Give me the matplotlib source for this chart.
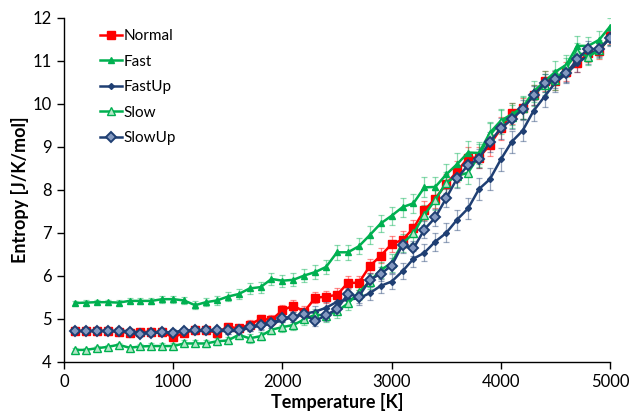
import matplotlib
matplotlib.use("Agg")
import matplotlib.pyplot as plt

plt.rcParams['font.family'] = ['Lato', 'DejaVu Sans']

temperature = [100, 200, 300, 400, 500, 600, 700, 800, 900, 1000,
               1100, 1200, 1300, 1400, 1500, 1600, 1700, 1800, 1900, 2000,
               2100, 2200, 2300, 2400, 2500, 2600, 2700, 2800, 2900, 3000,
               3100, 3200, 3300, 3400, 3500, 3600, 3700, 3800, 3900, 4000,
               4100, 4200, 4300, 4400, 4500, 4600, 4700, 4800, 4900, 5000]

normal = [4.72, 4.72, 4.72, 4.72, 4.70, 4.68, 4.70, 4.70, 4.70, 4.57,
          4.68, 4.74, 4.74, 4.68, 4.82, 4.78, 4.87, 5.00, 4.98, 5.20,
          5.31, 5.17, 5.49, 5.52, 5.56, 5.84, 5.84, 6.23, 6.47, 6.74,
          6.84, 7.11, 7.53, 7.80, 8.14, 8.43, 8.75, 8.75, 9.05, 9.43,
          9.78, 9.90, 10.21, 10.54, 10.54, 10.75, 10.95, 11.18, 11.22, 11.57]

fast = [5.37, 5.38, 5.39, 5.39, 5.38, 5.42, 5.42, 5.42, 5.46, 5.46,
        5.43, 5.32, 5.39, 5.43, 5.52, 5.58, 5.71, 5.74, 5.93, 5.89,
        5.91, 6.01, 6.09, 6.21, 6.55, 6.55, 6.69, 6.95, 7.22, 7.40,
        7.60, 7.69, 8.06, 8.07, 8.36, 8.60, 8.87, 8.86, 9.33, 9.61,
        9.76, 9.92, 10.29, 10.52, 10.75, 10.91, 11.35, 11.35, 11.49, 11.80]

fast_up = [4.72, 4.72, 4.72, 4.72, 4.72, 4.72, 4.68, 4.68, 4.68, 4.70,
           4.72, 4.72, 4.72, 4.72, 4.72, 4.72, 4.80, 4.84, 4.89, 4.97,
           5.05, 5.12, 5.17, 5.26, 5.40, 5.45, 5.48, 5.60, 5.77, 5.87,
           6.11, 6.40, 6.54, 6.80, 7.00, 7.31, 7.57, 8.02, 8.25, 8.71,
           9.12, 9.38, 9.84, 10.17, 10.50, 10.70, 10.95, 11.12, 11.30, 11.52]

slow = [4.28, 4.28, 4.32, 4.35, 4.40, 4.33, 4.36, 4.37, 4.37, 4.37,
        4.43, 4.43, 4.43, 4.48, 4.50, 4.63, 4.55, 4.60, 4.75, 4.81,
        4.86, 4.99, 5.10, 5.08, 5.18, 5.36, 5.62, 5.87, 6.14, 6.30,
        6.76, 6.99, 7.42, 7.77, 8.17, 8.33, 8.40, 8.80, 9.28, 9.57,
        9.70, 9.90, 10.20, 10.45, 10.55, 10.85, 11.20, 11.10, 11.25, 11.55]

slow_up = [4.72, 4.72, 4.72, 4.72, 4.72, 4.70, 4.66, 4.68, 4.70, 4.68,
           4.72, 4.74, 4.74, 4.74, 4.74, 4.74, 4.82, 4.86, 4.90, 5.02,
           5.05, 5.11, 4.95, 5.09, 5.23, 5.58, 5.52, 5.91, 6.05, 6.24,
           6.72, 6.64, 7.08, 7.36, 7.81, 8.27, 8.58, 8.73, 9.12, 9.43,
           9.64, 9.88, 10.20, 10.48, 10.57, 10.71, 11.04, 11.28, 11.27, 11.53]

err_normal = [0.04, 0.04, 0.04, 0.05, 0.05, 0.05, 0.05, 0.05, 0.06, 0.06,
              0.06, 0.07, 0.07, 0.08, 0.08, 0.09, 0.10, 0.10, 0.11, 0.12,
              0.12, 0.13, 0.13, 0.14, 0.15, 0.15, 0.16, 0.17, 0.18, 0.18,
              0.20, 0.20, 0.22, 0.22, 0.24, 0.24, 0.25, 0.25, 0.25, 0.26,
              0.24, 0.24, 0.24, 0.23, 0.22, 0.22, 0.20, 0.20, 0.18, 0.18]
err_fast = [0.05, 0.05, 0.05, 0.06, 0.06, 0.06, 0.07, 0.07, 0.08, 0.08,
            0.09, 0.09, 0.10, 0.10, 0.11, 0.12, 0.12, 0.13, 0.14, 0.14,
            0.15, 0.15, 0.16, 0.17, 0.18, 0.18, 0.19, 0.20, 0.20, 0.21,
            0.22, 0.22, 0.23, 0.24, 0.25, 0.25, 0.26, 0.26, 0.26, 0.27,
            0.26, 0.26, 0.25, 0.24, 0.24, 0.23, 0.22, 0.21, 0.20, 0.20]
err_fast_up = [0.03, 0.03, 0.04, 0.04, 0.04, 0.05, 0.05, 0.05, 0.05, 0.06,
               0.06, 0.06, 0.07, 0.07, 0.08, 0.08, 0.09, 0.09, 0.10, 0.10,
               0.11, 0.12, 0.12, 0.13, 0.13, 0.14, 0.15, 0.15, 0.16, 0.17,
               0.18, 0.19, 0.20, 0.21, 0.22, 0.23, 0.24, 0.25, 0.26, 0.26,
               0.25, 0.24, 0.24, 0.23, 0.22, 0.21, 0.20, 0.19, 0.18, 0.18]
err_slow = [0.04, 0.04, 0.04, 0.05, 0.05, 0.05, 0.05, 0.06, 0.06, 0.06,
            0.07, 0.07, 0.08, 0.08, 0.09, 0.09, 0.10, 0.10, 0.11, 0.12,
            0.12, 0.13, 0.14, 0.14, 0.15, 0.16, 0.17, 0.18, 0.19, 0.20,
            0.21, 0.22, 0.23, 0.24, 0.25, 0.26, 0.27, 0.27, 0.27, 0.28,
            0.27, 0.26, 0.25, 0.24, 0.23, 0.22, 0.21, 0.20, 0.19, 0.18]
err_slow_up = [0.03, 0.03, 0.04, 0.04, 0.04, 0.05, 0.05, 0.05, 0.05, 0.06,
               0.06, 0.06, 0.07, 0.07, 0.08, 0.08, 0.09, 0.09, 0.10, 0.10,
               0.11, 0.11, 0.12, 0.13, 0.13, 0.14, 0.15, 0.15, 0.16, 0.17,
               0.18, 0.18, 0.19, 0.20, 0.21, 0.22, 0.22, 0.23, 0.23, 0.24,
               0.23, 0.22, 0.22, 0.21, 0.20, 0.20, 0.19, 0.18, 0.18, 0.17]

RED = '#FF0000'
GREEN = '#00B050'
BLUE = '#1F3F73'

fig = plt.figure(figsize=(6.3, 4.17), dpi=100)
ax = fig.add_axes([0.1016, 0.132, 0.8667, 0.825])

series = [
    ('Normal', normal, err_normal, RED, dict(marker='s', ms=5.5, mfc=RED, mec=RED)),
    ('Fast', fast, err_fast, GREEN, dict(marker='^', ms=5, mfc=GREEN, mec=GREEN)),
    ('FastUp', fast_up, err_fast_up, BLUE, dict(marker='D', ms=3, mfc=BLUE, mec=BLUE)),
    ('Slow', slow, err_slow, GREEN, dict(marker='^', ms=5.5, mfc='#B5E6C8', mec=GREEN, mew=1.0)),
    ('SlowUp', slow_up, err_slow_up, BLUE, dict(marker='D', ms=5.5, mfc='#8499C0', mec=BLUE, mew=1.4)),
]

handles = []
for name, vals, err, col, mk in series:
    ax.errorbar(temperature, vals, yerr=err, fmt='none', ecolor=col, alpha=0.45,
                elinewidth=0.9, capsize=2.5, capthick=0.9, zorder=2)
    h, = ax.plot(temperature, vals, color=col, lw=1.8, zorder=3, label=name, **mk)
    handles.append(h)

ax.set_xlim(0, 5000)
ax.set_ylim(4, 12)
ax.set_xticks([0, 1000, 2000, 3000, 4000, 5000])
ax.set_yticks([4, 5, 6, 7, 8, 9, 10, 11, 12])
ax.spines['top'].set_visible(False)
ax.spines['right'].set_visible(False)
for s in ('left', 'bottom'):
    ax.spines[s].set_linewidth(1.0)
ax.tick_params(direction='out', length=5, width=1.0, labelsize=12, pad=4)

ax.set_xlabel('Temperature [K]', fontsize=13, fontweight='bold', labelpad=2)
ax.set_ylabel('Entropy [J/K/mol]', fontsize=13, fontweight='bold', labelpad=2)

leg = ax.legend(handles=handles, loc='upper left', bbox_to_anchor=(0.055, 0.985),
                frameon=False, fontsize=11, handlelength=1.4, handletextpad=0.15,
                labelspacing=0.75, borderaxespad=0.0)

fig.savefig('out.png', dpi=100)
